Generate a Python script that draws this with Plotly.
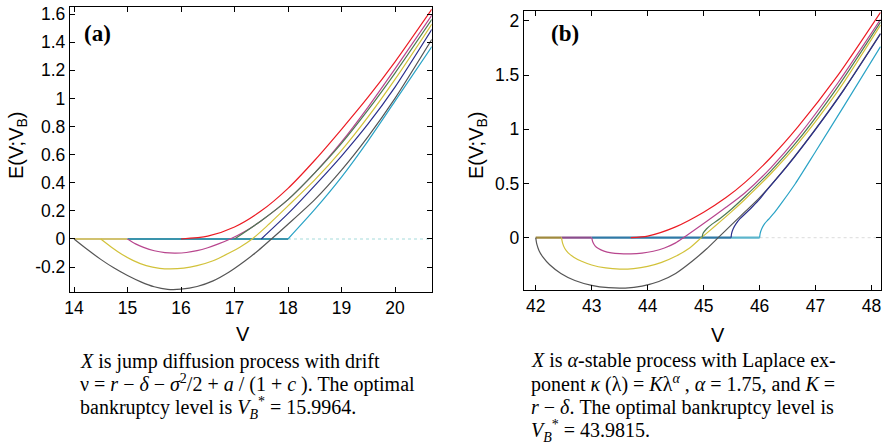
import plotly.graph_objects as go

W, H = 891, 445

# ---------------- Panel (a): jump diffusion ----------------
a_xticks = [14, 15, 16, 17, 18, 19, 20]
a_xticktext = ["14", "15", "16", "17", "18", "19", "20"]
a_yticks = [-0.2, 0, 0.2, 0.4, 0.6, 0.8, 1, 1.2, 1.4, 1.6]
a_yticktext = ["-0.2", "0", "0.2", "0.4", "0.6", "0.8", "1", "1.2", "1.4", "1.6"]

a_gray_V = [14.0, 14.25, 14.5, 14.75, 15.0, 15.25, 15.5, 15.75, 16.0, 16.3, 16.6, 16.9, 17.2, 17.45, 17.69, 18.0, 18.5, 19.0, 19.5, 20.0, 20.69]
a_gray_E = [0.0, -0.075, -0.145, -0.207, -0.26, -0.305, -0.34, -0.358, -0.357, -0.338, -0.298, -0.235, -0.155, -0.08, 0.0, 0.105, 0.28, 0.49, 0.73, 1.0, 1.42]

a_yellow_V = [14.5, 14.7, 14.9, 15.1, 15.35, 15.6, 15.8, 16.05, 16.3, 16.6, 16.9, 17.1, 17.33, 17.6, 18.0, 18.5, 19.0, 19.5, 20.0, 20.69]
a_yellow_E = [0.0, -0.058, -0.11, -0.152, -0.19, -0.209, -0.213, -0.208, -0.19, -0.155, -0.1, -0.058, 0.0, 0.09, 0.235, 0.42, 0.63, 0.87, 1.135, 1.529]

a_magenta_V = [15.0, 15.15, 15.3, 15.5, 15.7, 15.9, 16.1, 16.3, 16.5, 16.7, 16.92, 17.2, 17.5, 18.0, 18.5, 19.0, 19.5, 20.0, 20.69]
a_magenta_E = [0.0, -0.035, -0.06, -0.084, -0.097, -0.1, -0.096, -0.083, -0.062, -0.035, 0.0, 0.055, 0.13, 0.28, 0.47, 0.69, 0.94, 1.21, 1.593]

a_red_V = [16.0, 16.5, 17.0, 17.5, 18.0, 18.5, 19.0, 19.5, 20.0, 20.69]
a_red_E = [0.0, 0.02, 0.085, 0.2, 0.36, 0.56, 0.78, 1.01, 1.26, 1.635]

a_green_V = [17.0, 17.5, 18.0, 18.5, 19.0, 19.5, 20.0, 20.69]
a_green_E = [0.0, 0.13, 0.28, 0.47, 0.68, 0.92, 1.18, 1.562]

a_blue_V = [17.5, 18.0, 18.5, 19.0, 19.5, 20.0, 20.69]
a_blue_E = [0.0, 0.18, 0.38, 0.59, 0.82, 1.08, 1.491]

a_cyan_V = [18.0, 18.5, 19.0, 19.5, 20.0, 20.69]
a_cyan_E = [0.0, 0.21, 0.44, 0.7, 0.98, 1.368]

a_flat1_V = [14.0, 15.0]
a_flat1_E = [0.0, 0.0]
a_flat2_V = [15.0, 18.0]
a_flat2_E = [0.0, 0.0]
a_dot_V = [18.0, 20.69]
a_dot_E = [0.0, 0.0]

# ---------------- Panel (b): alpha-stable ----------------
b_xticks = [42, 43, 44, 45, 46, 47, 48]
b_xticktext = ["42", "43", "44", "45", "46", "47", "48"]
b_yticks = [0, 0.5, 1, 1.5, 2]
b_yticktext = ["0", "0.5", "1", "1.5", "2"]

b_gray_V = [42.0, 42.02, 42.06, 42.13, 42.25, 42.45, 42.7, 43.0, 43.3, 43.6, 43.9, 44.2, 44.5, 44.8, 45.05, 45.26, 45.5, 45.74, 46.0, 46.5, 47.0, 47.5, 48.16]
b_gray_E = [0.0, -0.06, -0.12, -0.18, -0.25, -0.33, -0.395, -0.44, -0.462, -0.465, -0.447, -0.405, -0.33, -0.215, -0.105, 0.0, 0.12, 0.24, 0.37, 0.67, 1.005, 1.365, 1.886]

b_yellow_V = [42.46, 42.48, 42.52, 42.58, 42.68, 42.82, 43.0, 43.25, 43.5, 43.75, 44.0, 44.25, 44.5, 44.75, 44.96, 45.2, 45.5, 45.74, 46.2, 46.68, 47.4, 48.16]
b_yellow_E = [0.0, -0.05, -0.1, -0.14, -0.18, -0.218, -0.252, -0.279, -0.29, -0.285, -0.265, -0.228, -0.172, -0.095, 0.0, 0.105, 0.24, 0.355, 0.59, 0.865, 1.355, 1.963]

b_magenta_V = [43.0, 43.02, 43.06, 43.12, 43.22, 43.35, 43.5, 43.7, 43.9, 44.1, 44.3, 44.5, 44.64, 45.0, 45.4, 45.74, 46.2, 46.68, 47.4, 48.16]
b_magenta_E = [0.0, -0.04, -0.075, -0.1, -0.124, -0.14, -0.148, -0.15, -0.143, -0.125, -0.095, -0.048, 0.0, 0.13, 0.28, 0.415, 0.645, 0.93, 1.43, 2.015]

b_red_V = [43.7, 44.0, 44.5, 45.0, 45.4, 45.74, 46.2, 46.68, 47.4, 48.16]
b_red_E = [0.0, 0.015, 0.1, 0.235, 0.37, 0.51, 0.74, 1.02, 1.5, 2.08]

b_green_V = [44.97, 44.99, 45.05, 45.15, 45.3, 45.5, 45.74, 46.2, 46.68, 47.4, 48.16]
b_green_E = [0.0, 0.04, 0.08, 0.125, 0.18, 0.265, 0.38, 0.615, 0.895, 1.395, 1.99]

b_blue_V = [45.49, 45.5, 45.53, 45.58, 45.65, 45.75, 45.88, 46.0, 46.1, 46.5, 47.0, 47.5, 48.16]
b_blue_E = [0.0, 0.04, 0.085, 0.13, 0.175, 0.225, 0.29, 0.355, 0.42, 0.665, 1.0, 1.36, 1.88]

b_cyan_V = [46.0, 46.01, 46.04, 46.09, 46.16, 46.26, 46.4, 46.64, 47.0, 47.5, 48.16]
b_cyan_E = [0.0, 0.04, 0.085, 0.13, 0.17, 0.228, 0.325, 0.5, 0.795, 1.21, 1.763]

b_flat1_V = [42.0, 42.46]
b_flat1_E = [0.0, 0.0]
b_flat2_V = [42.46, 43.0]
b_flat2_E = [0.0, 0.0]
b_flat3_V = [43.0, 45.49]
b_flat3_E = [0.0, 0.0]
b_flat4_V = [45.49, 46.0]
b_flat4_E = [0.0, 0.0]
b_dot_V = [46.0, 48.16]
b_dot_E = [0.0, 0.0]

# caption lines
cap_a_lines = [
    "<i>X</i> is jump diffusion process with drift",
    "ν = <i>r</i> − <i>δ</i> − <i>σ</i><sup>2</sup>/2 + <i>a</i> / (1 + <i>c</i> ). The optimal",
    "bankruptcy level is <i>V</i><sub><i>B</i></sub><sup>*</sup> = 15.9964.",
]
cap_b_lines = [
    "<i>X</i> is <i>α</i>-stable process with Laplace ex-",
    "ponent <i>κ</i> (λ) = <i>K</i>λ<sup><i>α</i></sup> , <i>α</i> = 1.75, and <i>K</i> =",
    "<i>r</i> − <i>δ</i>. The optimal bankruptcy level is",
    "<i>V</i><sub><i>B</i></sub><sup>*</sup> = 43.9815.",
]

RED = "#ec1c24"
MAGENTA = "#b8468e"
GREEN = "#4d7a55"
YELLOW = "#d2c23a"
BLUE = "#2b2f8c"
GRAY = "#555555"
CYAN = "#2aa3c6"

fig = go.Figure()


def add_line(V, E, color, xa, ya, width=1.2, dash="solid", shape="spline"):
    fig.add_trace(go.Scatter(
        x=V, y=E, mode="lines", xaxis=xa, yaxis=ya,
        line=dict(color=color, width=width, dash=dash, shape=shape, smoothing=0.7),
        hoverinfo="skip", showlegend=False))


# panel a
add_line(a_dot_V, a_dot_E, "#a6dbdb", "x", "y", width=1.2, dash="dot", shape="linear")
add_line(a_flat1_V, a_flat1_E, "#d1c270", "x", "y", width=2, shape="linear")
add_line(a_flat2_V, a_flat2_E, "#3a94ac", "x", "y", width=2, shape="linear")
for V, E, c in [(a_gray_V, a_gray_E, GRAY), (a_yellow_V, a_yellow_E, YELLOW),
                (a_magenta_V, a_magenta_E, MAGENTA), (a_red_V, a_red_E, RED),
                (a_green_V, a_green_E, GREEN), (a_blue_V, a_blue_E, BLUE),
                (a_cyan_V, a_cyan_E, CYAN)]:
    add_line(V, E, c, "x", "y")

# panel b
add_line(b_dot_V, b_dot_E, "#e2e2e2", "x2", "y2", width=1.2, dash="dot", shape="linear")
add_line(b_flat1_V, b_flat1_E, "#a08a3e", "x2", "y2", width=2.2, shape="linear")
add_line(b_flat2_V, b_flat2_E, "#8a4d8c", "x2", "y2", width=2.2, shape="linear")
add_line(b_flat3_V, b_flat3_E, "#2f79a6", "x2", "y2", width=2.4, shape="linear")
add_line(b_flat4_V, b_flat4_E, "#5cb5cc", "x2", "y2", width=2.2, shape="linear")
for V, E, c in [(b_gray_V, b_gray_E, GRAY), (b_yellow_V, b_yellow_E, YELLOW),
                (b_magenta_V, b_magenta_E, MAGENTA), (b_red_V, b_red_E, RED),
                (b_green_V, b_green_E, GREEN), (b_blue_V, b_blue_E, BLUE),
                (b_cyan_V, b_cyan_E, CYAN)]:
    add_line(V, E, c, "x2", "y2")

TICKFONT = dict(family="Liberation Sans, Arial, sans-serif", size=17.5, color="black")


def px(x):
    return x / W


def py(y):
    return 1 - y / H


axis_common = dict(showline=True, linecolor="black", linewidth=1.3, mirror="ticks",
                   ticks="inside", ticklen=5, tickwidth=1, tickcolor="black",
                   showgrid=False, zeroline=False, tickfont=TICKFONT, tickmode="array",
                   automargin=False)

fig.update_layout(
    width=W, height=H, margin=dict(l=0, r=0, t=0, b=0),
    paper_bgcolor="white", plot_bgcolor="white", showlegend=False,
    xaxis=dict(domain=[px(70), px(431.7)], range=[13.925, 20.686],
               tickvals=a_xticks, ticktext=a_xticktext, anchor="y", **axis_common),
    yaxis=dict(domain=[py(291.7), py(7.3)], range=[-0.375, 1.648],
               tickvals=a_yticks, ticktext=a_yticktext, anchor="x", **axis_common),
    xaxis2=dict(domain=[px(524), px(880.7)], range=[41.791, 48.163],
                tickvals=b_xticks, ticktext=b_xticktext, anchor="y2", **axis_common),
    yaxis2=dict(domain=[py(290), py(10.7)], range=[-0.483, 2.095],
                tickvals=b_yticks, ticktext=b_yticktext, anchor="x2", **axis_common),
)

TITLEFONT = dict(family="Liberation Sans, Arial, sans-serif", size=20, color="black")
SERIF = "Liberation Serif, Times New Roman, serif"
CAPFONT = dict(family=SERIF, size=20, color="black")

annotations = [
    dict(text="<b>(a)</b>", x=px(97), y=py(33.5), font=dict(family=SERIF, size=23, color="black")),
    dict(text="<b>(b)</b>", x=px(565), y=py(33.5), font=dict(family=SERIF, size=23, color="black")),
    dict(text="E(V;V<sub>B</sub>)", x=px(17), y=py(145), textangle=-90, font=TITLEFONT),
    dict(text="E(V;V<sub>B</sub>)", x=px(477), y=py(145), textangle=-90, font=TITLEFONT),
    dict(text="V", x=px(243), y=py(334), font=TITLEFONT),
    dict(text="V", x=px(718), y=py(335), font=TITLEFONT),
]


def line_offset(s):
    # vertical distance from baseline to the middle of the text box
    has_sup = "<sup>" in s
    has_sub = "<sub>" in s
    if has_sup and not has_sub:
        return 8.3
    if has_sub and not has_sup:
        return 5.3
    return 6.8


a_baselines = [368, 391.5, 415]
b_baselines = [367.7, 391.3, 414.7, 438]
for line, b in zip(cap_a_lines, a_baselines):
    annotations.append(dict(text=line, x=px(78), y=py(b - line_offset(line)), xanchor="left",
                            align="left", font=CAPFONT))
for line, b in zip(cap_b_lines, b_baselines):
    annotations.append(dict(text=line, x=px(529), y=py(b - line_offset(line)), xanchor="left",
                            align="left", font=CAPFONT))

for a in annotations:
    a.setdefault("xanchor", "center")
    a.setdefault("yanchor", "middle")
    a.update(xref="paper", yref="paper", showarrow=False)
fig.update_layout(annotations=annotations)

fig.write_html("out.html", config={"displayModeBar": False},
               post_script="document.body.style.margin='0';document.body.style.padding='0';")
